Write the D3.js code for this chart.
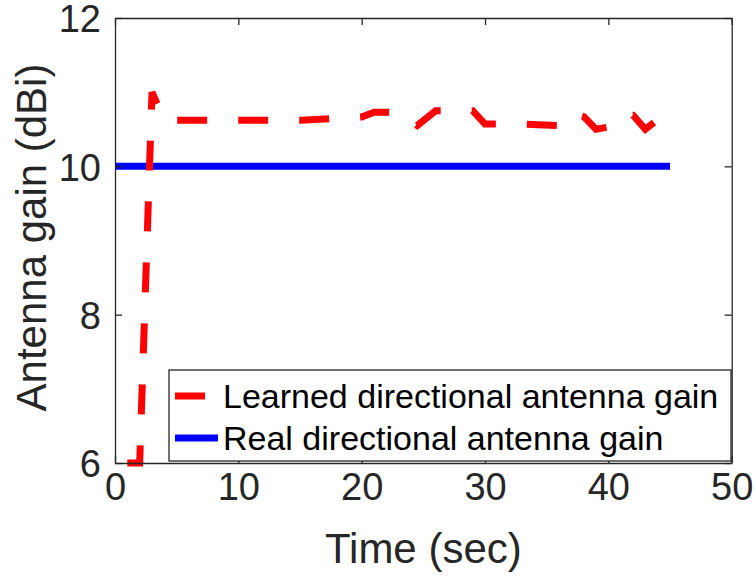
<!DOCTYPE html>
<html>
<head>
<meta charset="utf-8">
<script src="https://cdn.jsdelivr.net/npm/d3@7"></script>
<style>
  html, body { margin: 0; padding: 0; background: #fff; }
  svg { display: block; }
  text { font-family: "Liberation Sans", Arial, Helvetica, sans-serif; }
</style>
</head>
<body>
<svg id="chart" width="756" height="581"></svg>
<script>
// Learned gain estimate over time (seconds, dBi)
const learnedTime = [1, 2, 3, 4, 15, 20, 21, 23, 24.5, 26, 29, 30, 33, 36, 37, 38, 39, 40, 41, 42, 43, 44];
const learnedGain = [6, 6, 11.0, 10.62, 10.62, 10.665, 10.73, 10.73, 10.55, 10.75, 10.75, 10.57, 10.57, 10.55, 10.72, 10.67, 10.50, 10.53, 10.69, 10.69, 10.50, 10.63];
// True gain of the directional antenna
const realTime = [0, 45];
const realGain = [10, 10];
// Axis ticks
const xTicks = [0, 10, 20, 30, 40, 50];
const yTicks = [6, 8, 10, 12];
const seriesNames = ["Learned directional antenna gain", "Real directional antenna gain"];

const W = 756, H = 581;
const m = { left: 115, right: 731.7, top: 18, bottom: 463 };
const axisColor = "#262626";

const svg = d3.select("#chart");
const x = d3.scaleLinear().domain([0, 50]).range([m.left, m.right]);
const y = d3.scaleLinear().domain([6, 12]).range([m.bottom, m.top]);

const tickLen = 7;

// Data lines (clipped to the axes box)
svg.append("clipPath").attr("id", "plotClip")
  .append("rect").attr("x", m.left).attr("y", m.top - 4)
  .attr("width", m.right - m.left).attr("height", m.bottom - m.top + 8);

const plot = svg.append("g").attr("clip-path", "url(#plotClip)");
const line = d3.line().x(d => x(d[0])).y(d => y(d[1]));

plot.append("path")
  .datum(realTime.map((t, i) => [t, realGain[i]]))
  .attr("d", line)
  .attr("fill", "none").attr("stroke", "#0000ff").attr("stroke-width", 7);

plot.append("path")
  .datum(learnedTime.map((t, i) => [t, learnedGain[i]]))
  .attr("d", line)
  .attr("fill", "none").attr("stroke", "#ff0000").attr("stroke-width", 7)
  .attr("stroke-dasharray", "30,31").attr("stroke-linejoin", "miter");

// Axes: bottom/left with labels, top/right mirrored ticks only
const fmt = d3.format("d");
const bottomAxis = d3.axisBottom(x).tickValues(xTicks).tickFormat(fmt).tickSizeInner(-tickLen).tickSizeOuter(0).tickPadding(14);
const leftAxis = d3.axisLeft(y).tickValues(yTicks).tickFormat(fmt).tickSizeInner(-tickLen).tickSizeOuter(0).tickPadding(14);
const topAxis = d3.axisTop(x).tickValues(xTicks).tickSizeInner(-tickLen).tickSizeOuter(0).tickFormat("");
const rightAxis = d3.axisRight(y).tickValues(yTicks).tickSizeInner(-tickLen).tickSizeOuter(0).tickFormat("");

function styleAxis(g) {
  g.select(".domain").attr("stroke", axisColor).attr("stroke-width", 1.3);
  g.selectAll(".tick line").attr("stroke", axisColor).attr("stroke-width", 1.3);
  g.selectAll(".tick text").attr("fill", axisColor).style("font-size", "38px")
   .style("font-family", "'Liberation Sans', Arial, sans-serif");
}

const gx = svg.append("g").attr("transform", `translate(0,${m.bottom})`).call(bottomAxis).call(styleAxis);
gx.selectAll(".tick text").attr("dy", null).attr("y", 37);
const gy = svg.append("g").attr("transform", `translate(${m.left},0)`).call(leftAxis).call(styleAxis);
gy.selectAll(".tick text").attr("x", -14).attr("dy", "0.36em");
svg.append("g").attr("transform", `translate(0,${m.top})`).call(topAxis).call(styleAxis);
svg.append("g").attr("transform", `translate(${m.right},0)`).call(rightAxis).call(styleAxis);

// Axis titles
svg.append("text")
  .attr("x", (m.left + m.right) / 2).attr("y", 563)
  .attr("text-anchor", "middle").attr("fill", axisColor)
  .style("font-size", "42px").text("Time (sec)");

svg.append("text")
  .attr("transform", `translate(46,${(m.top + m.bottom) / 2 - 3}) rotate(-90)`)
  .attr("text-anchor", "middle").attr("fill", axisColor)
  .style("font-size", "42px").text("Antenna gain (dBi)");

// Legend
const lg = { x0: 169, y0: 370, x1: 731, y1: 461 };
const legend = svg.append("g");
legend.append("rect")
  .attr("x", lg.x0).attr("y", lg.y0)
  .attr("width", lg.x1 - lg.x0).attr("height", lg.y1 - lg.y0)
  .attr("fill", "#fff").attr("stroke", axisColor).attr("stroke-width", 1.3);

const rows = [
  { name: seriesNames[0], color: "#ff0000", dash: "30,31", yc: 396 },
  { name: seriesNames[1], color: "#0000ff", dash: null, yc: 438 }
];
rows.forEach(r => {
  legend.append("line")
    .attr("x1", 175).attr("x2", 218).attr("y1", r.yc).attr("y2", r.yc)
    .attr("stroke", r.color).attr("stroke-width", 7)
    .attr("stroke-dasharray", r.dash);
  legend.append("text")
    .attr("x", 223).attr("y", r.yc + 12)
    .attr("fill", "#000").style("font-size", "34px").text(r.name);
});
</script>
</body>
</html>
